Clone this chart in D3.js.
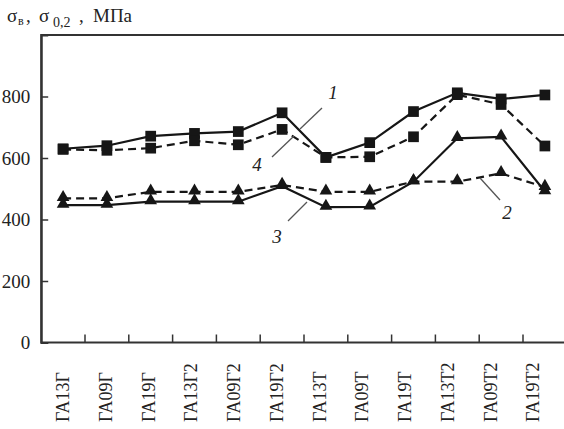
<!DOCTYPE html>
<html>
<head>
<meta charset="utf-8">
<script src="https://cdn.jsdelivr.net/npm/d3@7"></script>
<style>
  body { margin: 0; background: #fff; }
  svg { display: block; }
  svg text { font-family: "Liberation Serif", "Times New Roman", "DejaVu Serif", serif !important; fill: #222; }
</style>
</head>
<body>
<div id="chart"></div>
<script>
// Chart data

var categories = ["ГА13Г", "ГА09Г", "ГА19Г", "ГА13Г2", "ГА09Г2", "ГА19Г2",
                  "ГА13Т", "ГА09Т", "ГА19Т", "ГА13Т2", "ГА09Т2", "ГА19Т2"];

var curve1 = [630, 640, 671, 680, 686, 747, 602, 650, 751, 812, 792, 805];   // solid, squares
var curve4 = [628, 625, 632, 656, 643, 693, 602, 604, 669, 806, 774, 639];   // dashed, squares
var curve3 = [447, 447, 458, 458, 458, 508, 440, 441, 523, 664, 669, 491];   // solid, triangles
var curve2 = [469, 469, 490, 490, 490, 512, 490, 490, 523, 523, 550, 505];   // dashed, triangles

var yTicks = [0, 200, 400, 600, 800];

// Chart variables

var width = 564;
var height = 429;
var ink = "#161616";
var serif = "'Liberation Serif', 'Times New Roman', 'DejaVu Serif', serif";

var svg = d3.select("#chart")
    .append("svg")
    .attr("width", width)
    .attr("height", height)
    .attr("font-family", serif);

// Scales

var xScale = d3.scaleBand()
    .domain(categories)
    .range([41.2, 41.2 + 12 * 43.8])
    .padding(0);

var xLabel = d3.scalePoint()                 // labels sit on a slightly tighter grid in the original
    .domain(categories)
    .range([63.3, 533.3]);

var yScale = d3.scaleLinear()
    .domain([0, 1000])
    .range([342.5, 35]);

function cx(d) { return xScale(d) + xScale.bandwidth() / 2; }

// Frame (right edge falls outside the picture)

svg.append("rect")
    .attr("x", xScale.range()[0])
    .attr("y", yScale(1000))
    .attr("width", xScale.range()[1] - xScale.range()[0])
    .attr("height", yScale(0) - yScale(1000))
    .attr("fill", "none")
    .attr("stroke", "#333")
    .attr("stroke-width", 2);

// Y axis

var yAxis = d3.axisLeft(yScale)
    .tickValues(yTicks)
    .tickSize(-7)
    .tickPadding(11)
    .tickFormat(d3.format("d"));

var gy = svg.append("g")
    .attr("transform", "translate(" + xScale.range()[0] + ",0)")
    .call(yAxis)
    .attr("font-family", serif)
    .attr("font-size", 19);

gy.select(".domain").attr("stroke", "#333").attr("stroke-width", 2);
gy.selectAll(".tick line").attr("stroke", "#333").attr("stroke-width", 1.5);
gy.selectAll(".tick text").attr("fill", "#222");

// X axis: ticks at band edges, labels rotated

svg.append("g")
    .selectAll("line")
    .data(categories.slice(1))
    .enter()
    .append("line")
    .attr("x1", function(d) { return xScale(d); })
    .attr("x2", function(d) { return xScale(d); })
    .attr("y1", yScale(0))
    .attr("y2", yScale(0) - 8)
    .attr("stroke", "#333")
    .attr("stroke-width", 1.5);

svg.append("g")
    .selectAll("text")
    .data(categories)
    .enter()
    .append("text")
    .attr("transform", function(d) { return "translate(" + xLabel(d) + ",422) rotate(-90)"; })
    .attr("dy", "0.33em")
    .attr("text-anchor", "start")
    .attr("font-size", 18)
    .text(function(d) { return d; });

// Lines and markers

var series = [
    {values: curve1, dash: null,  marker: "square"},
    {values: curve4, dash: "8,5", marker: "square"},
    {values: curve3, dash: null,  marker: "triangle"},
    {values: curve2, dash: "8,5", marker: "triangle"}
];

var line = d3.line()
    .x(function(d, i) { return cx(categories[i]); })
    .y(function(d) { return yScale(d); });

series.forEach(function(s) {
    svg.append("path")
        .datum(s.values)
        .attr("d", line)
        .attr("fill", "none")
        .attr("stroke", ink)
        .attr("stroke-width", 2.2)
        .attr("stroke-dasharray", s.dash);
});

var sym = {
    square: d3.symbol().type(d3.symbolSquare).size(115),
    triangle: d3.symbol().type(d3.symbolTriangle).size(70)
};

series.forEach(function(s) {
    svg.append("g")
        .selectAll("path")
        .data(s.values)
        .enter()
        .append("path")
        .attr("d", sym[s.marker])
        .attr("transform", function(d, i) {
            return "translate(" + cx(categories[i]) + "," + (yScale(d) - (s.marker === "triangle" ? 1 : 0)) + ")";
        })
        .attr("fill", ink);
});

// Curve labels with leader lines

var leaders = [
    [322, 108, 300, 129],
    [294, 136, 272, 157],
    [307, 202, 288, 221],
    [480, 178, 500, 200]
];
var curveNames = [
    {t: "1", x: 333, y: 99},
    {t: "4", x: 257, y: 171},
    {t: "3", x: 277, y: 243},
    {t: "2", x: 507, y: 219}
];

svg.append("g")
    .selectAll("line")
    .data(leaders)
    .enter()
    .append("line")
    .attr("x1", function(d) { return d[0]; })
    .attr("y1", function(d) { return d[1]; })
    .attr("x2", function(d) { return d[2]; })
    .attr("y2", function(d) { return d[3]; })
    .attr("stroke", "#555")
    .attr("stroke-width", 1.3);

svg.append("g")
    .selectAll("text")
    .data(curveNames)
    .enter()
    .append("text")
    .attr("x", function(d) { return d.x; })
    .attr("y", function(d) { return d.y; })
    .attr("text-anchor", "middle")
    .attr("font-size", 19)
    .attr("font-style", "italic")
    .attr("fill", "#555")
    .text(function(d) { return d.t; });

// Axis title: σв, σ0,2, МПа

var title = svg.append("text")
    .attr("y", 22)
    .attr("font-size", 19);

title.append("tspan").attr("x", 7).text("σ");
title.append("tspan").attr("x", 18).attr("dy", 3).attr("font-size", 12).text("в");
title.append("tspan").attr("x", 26).attr("dy", -3).text(",");
title.append("tspan").attr("x", 39).text("σ");
title.append("tspan").attr("x", 53).attr("dy", 5).attr("font-size", 14).text("0,2");
title.append("tspan").attr("x", 79).attr("dy", -5).text(",");
title.append("tspan").attr("x", 93).text("МПа");
</script>
</body>
</html>
